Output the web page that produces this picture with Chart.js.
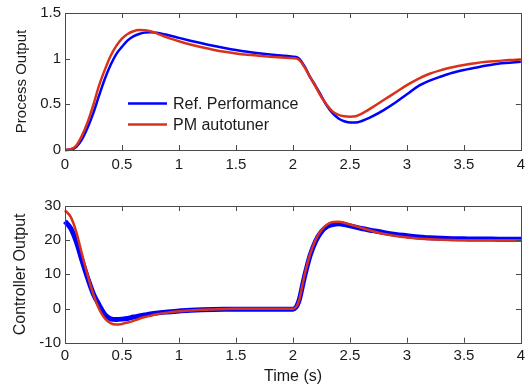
<!DOCTYPE html>
<html>
<head>
<meta charset="utf-8">
<script src="https://cdn.jsdelivr.net/npm/chart.js@4.4.1/dist/chart.umd.min.js"></script>
<style>
  html, body { margin: 0; padding: 0; background: #ffffff; }
  #wrap { position: relative; width: 531px; height: 388px; overflow: hidden; }
  .pane { position: absolute; left: 0; width: 531px; }
  #p1 { top: 0; height: 190px; }
  #p2 { top: 190px; height: 198px; }
</style>
</head>
<body>
<div id="wrap">
  <div class="pane" id="p1"><canvas id="c1" width="531" height="190"></canvas></div>
  <div class="pane" id="p2"><canvas id="c2" width="531" height="198"></canvas></div>
</div>
<script>
// ---------------- data ----------------
const timeS = [0, 0.05, 0.1, 0.15, 0.2, 0.25, 0.3, 0.35, 0.4, 0.45, 0.5, 0.55, 0.6, 0.65, 0.7, 0.75, 0.8,
  0.9, 1.0, 1.1, 1.2, 1.3, 1.4, 1.5, 1.6, 1.7, 1.8, 1.9,
  2.0, 2.05, 2.1, 2.15, 2.2, 2.25, 2.3, 2.35, 2.4, 2.45, 2.5, 2.55, 2.6,
  2.7, 2.8, 2.9, 3.0, 3.1, 3.2, 3.3, 3.4, 3.5, 3.6, 3.7, 3.8, 3.9, 4.0];

const processRef = [0, 0.005, 0.036, 0.12, 0.25, 0.41, 0.60, 0.78, 0.93, 1.05, 1.13, 1.20, 1.245, 1.27, 1.285, 1.29, 1.285,
  1.26, 1.228, 1.197, 1.168, 1.141, 1.117, 1.095, 1.076, 1.06, 1.046, 1.034,
  1.022, 1.005, 0.92, 0.80, 0.70, 0.59, 0.48, 0.40, 0.345, 0.315, 0.302, 0.30, 0.315,
  0.37, 0.44, 0.52, 0.61, 0.70, 0.76, 0.805, 0.845, 0.875, 0.90, 0.925, 0.945, 0.955, 0.965];

const processPM = [0, 0.008, 0.05, 0.16, 0.31, 0.50, 0.71, 0.88, 1.03, 1.14, 1.22, 1.27, 1.30, 1.315, 1.31, 1.30, 1.28,
  1.23, 1.19, 1.155, 1.125, 1.098, 1.075, 1.057, 1.043, 1.032, 1.022, 1.013,
  1.005, 0.99, 0.91, 0.80, 0.69, 0.58, 0.49, 0.42, 0.385, 0.37, 0.365, 0.37, 0.395,
  0.47, 0.55, 0.63, 0.71, 0.78, 0.835, 0.875, 0.905, 0.93, 0.95, 0.965, 0.975, 0.985, 0.99];

const controlRef = [25.5, 23.5, 19.5, 14.0, 8.8, 4.2, 1.0, -1.8, -3.0, -3.2, -3.1, -2.9, -2.5, -2.2, -1.9, -1.6, -1.35,
  -1.0, -0.7, -0.5, -0.35, -0.25, -0.2, -0.2, -0.2, -0.2, -0.2, -0.2,
  -0.2, 2.0, 9.2, 15.5, 19.8, 22.5, 24.0, 24.6, 24.8, 24.6, 24.2, 23.8, 23.4,
  22.8, 22.2, 21.7, 21.3, 20.9, 20.7, 20.55, 20.45, 20.4, 20.35, 20.35, 20.3, 20.3, 20.3];

const controlPM = [28.7, 26.8, 22.3, 15.8, 9.6, 4.0, -0.2, -2.9, -4.3, -4.7, -4.5, -4.1, -3.6, -3.0, -2.5, -2.1, -1.7,
  -1.2, -0.8, -0.55, -0.35, -0.25, -0.15, -0.1, -0.1, -0.1, -0.1, -0.1,
  -0.1, 2.0, 9.6, 15.9, 20.2, 23.0, 24.6, 25.3, 25.4, 25.1, 24.6, 24.1, 23.6,
  22.6, 21.8, 21.2, 20.8, 20.5, 20.3, 20.15, 20.05, 20.0, 20.0, 20.0, 20.0, 20.0, 20.0];

const seriesLabels = ['Ref. Performance', 'PM autotuner'];
const xTitle = 'Time (s)';
const yTitles = ['Process Output', 'Controller Output'];
const xTickValues = [0, 0.5, 1, 1.5, 2, 2.5, 3, 3.5, 4];
const xTickLabels = ['0', '0.5', '1', '1.5', '2', '2.5', '3', '3.5', '4'];
const y1TickValues = [0, 0.5, 1, 1.5];
const y1TickLabels = ['0', '0.5', '1', '1.5'];
const y2TickValues = [-10, 0, 10, 20, 30];
const y2TickLabels = ['-10', '0', '10', '20', '30'];

// ---------------- style ----------------
const BLUE = '#0000ff';
const RED = '#d9321a';
const TEXT = '#1a1a1a';
const FRAME = '#4a4a4a';
const FONT = '"Liberation Sans", Arial, Helvetica, sans-serif';
Chart.defaults.font.family = FONT;
Chart.defaults.color = TEXT;

const pts = (arr) => timeS.map((t, i) => ({ x: t, y: arr[i] }));

function fixedTicks(values, labels) {
  return {
    afterBuildTicks: (s) => { s.ticks = values.map(v => ({ value: v })); },
    callback: (v) => { const i = values.indexOf(v); return i >= 0 ? labels[i] : ''; }
  };
}

// box + inward ticks on all four sides (MATLAB style)
const framePlugin = {
  id: 'frame',
  afterDatasetsDraw(chart) {
    const { ctx, chartArea: a, scales } = chart;
    const L = 5;
    ctx.save();
    ctx.strokeStyle = FRAME;
    ctx.lineWidth = 1;
    ctx.beginPath();
    scales.x.ticks.forEach(tk => {
      const px = Math.round(scales.x.getPixelForValue(tk.value)) + 0.5;
      ctx.moveTo(px, a.bottom); ctx.lineTo(px, a.bottom - L);
      ctx.moveTo(px, a.top); ctx.lineTo(px, a.top + L);
    });
    scales.y.ticks.forEach(tk => {
      const py = Math.round(scales.y.getPixelForValue(tk.value)) + 0.5;
      ctx.moveTo(a.left, py); ctx.lineTo(a.left + L, py);
      ctx.moveTo(a.right, py); ctx.lineTo(a.right - L, py);
    });
    ctx.stroke();
    ctx.strokeRect(Math.round(a.left) + 0.5, Math.round(a.top) + 0.5,
      Math.round(a.right - a.left), Math.round(a.bottom - a.top));
    ctx.restore();
  }
};

// legend drawn inside the top axes
const insideLegend = {
  id: 'insideLegend',
  afterDraw(chart, args, opts) {
    if (!opts.show) return;
    const { ctx, chartArea: a } = chart;
    const x0 = a.left + 63, y0 = a.top + 90.5, gap = 21;
    ctx.save();
    ctx.font = '16px ' + FONT;
    ctx.textBaseline = 'middle';
    ctx.fillStyle = TEXT;
    chart.data.datasets.slice().sort((p, q) => p.legendIndex - q.legendIndex).forEach((ds, i) => {
      const y = y0 + i * gap;
      ctx.strokeStyle = ds.borderColor;
      ctx.lineWidth = 2.5;
      ctx.beginPath();
      ctx.moveTo(x0, y); ctx.lineTo(x0 + 39, y);
      ctx.stroke();
      ctx.fillText(ds.label, x0 + 45, y + 1);
    });
    ctx.restore();
  }
};

function makeChart(canvasId, refVals, pmVals, yVals, yLabels, yTitle, opt) {
  const xt = fixedTicks(xTickValues, xTickLabels);
  const yt = fixedTicks(yVals, yLabels);
  return new Chart(document.getElementById(canvasId), {
    type: 'line',
    data: {
      datasets: [
        { label: seriesLabels[1], legendIndex: 1, data: pts(pmVals), borderColor: RED, borderWidth: opt.redW,
          pointRadius: 0, cubicInterpolationMode: 'monotone', order: 0, clip: 4 },
        { label: seriesLabels[0], legendIndex: 0, data: pts(refVals), borderColor: BLUE, borderWidth: opt.blueW,
          pointRadius: 0, cubicInterpolationMode: 'monotone', order: 1, clip: 4 }
      ]
    },
    options: {
      responsive: false,
      animation: false,
      events: [],
      layout: { padding: { left: 0, right: 10, top: opt.top, bottom: 0 } },
      plugins: { legend: { display: false }, tooltip: { enabled: false }, insideLegend: { show: opt.legend } },
      scales: {
        x: {
          type: 'linear', min: xTickValues[0], max: xTickValues[xTickValues.length - 1],
          afterBuildTicks: xt.afterBuildTicks,
          ticks: { callback: xt.callback, padding: opt.xPad, font: { size: 15 }, color: TEXT, maxRotation: 0, autoSkip: false },
          grid: { display: false, drawTicks: false },
          border: { display: false },
          title: { display: !!opt.xTitle, text: xTitle, font: { size: 16 }, color: TEXT, padding: { top: 0, bottom: 2 } },
          afterFit: (s) => { s.height = opt.xH; }
        },
        y: {
          type: 'linear', min: yVals[0], max: yVals[yVals.length - 1],
          afterBuildTicks: yt.afterBuildTicks,
          ticks: { callback: yt.callback, padding: 4, font: { size: 15 }, color: TEXT, autoSkip: false },
          grid: { display: false, drawTicks: false },
          border: { display: false },
          title: { display: true, text: yTitle, font: { size: opt.yTitleSize }, color: TEXT, padding: { top: opt.yTitlePad, bottom: 0 } },
          afterFit: (s) => { s.width = 65; }
        }
      }
    },
    plugins: [framePlugin, insideLegend]
  });
}

makeChart('c1', processRef, processPM, y1TickValues, y1TickLabels, yTitles[0],
  { redW: 2.5, blueW: 2.5, top: 11.5, xH: 40, xPad: 6, legend: true, xTitle: false, yTitleSize: 15, yTitlePad: 13 });
makeChart('c2', controlRef, controlPM, y2TickValues, y2TickLabels, yTitles[1],
  { redW: 2.5, blueW: 5, top: 16, xH: 45.3, xPad: 4, legend: false, xTitle: true, yTitleSize: 16, yTitlePad: 11 });
</script>
</body>
</html>
